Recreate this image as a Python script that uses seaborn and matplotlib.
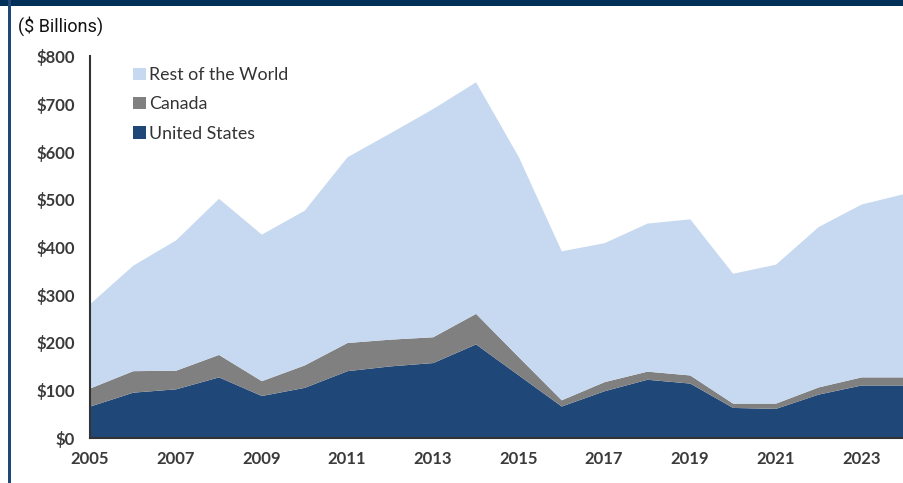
import matplotlib
matplotlib.use("Agg")
import matplotlib.pyplot as plt
from matplotlib.patches import Patch, Rectangle
import seaborn as sns
import pandas as pd

years = list(range(2005, 2025))
united_states = [67, 96, 103, 128, 89, 106, 141, 151, 158, 197, 132, 67, 99, 123, 115, 64, 62, 92, 111, 111]
canada_top = [105, 141, 142, 175, 120, 153, 200, 207, 212, 261, 170, 80, 118, 140, 132, 73, 73, 107, 128, 128]
total = [282, 362, 415, 502, 427, 477, 589, 639, 690, 746, 589, 392, 409, 450, 459, 345, 364, 443, 490, 512]
canada = [c - u for c, u in zip(canada_top, united_states)]
rest_of_world = [t - c for t, c in zip(total, canada_top)]

series_names = ["United States", "Canada", "Rest of the World"]
colors = ["#1F4778", "#808080", "#C6D9F0"]
y_ticks = [0, 100, 200, 300, 400, 500, 600, 700, 800]
y_tick_labels = ["$0", "$100", "$200", "$300", "$400", "$500", "$600", "$700", "$800"]
x_ticks = [2005, 2007, 2009, 2011, 2013, 2015, 2017, 2019, 2021, 2023]

df = pd.DataFrame({"year": years, "United States": united_states,
                   "Canada": canada, "Rest of the World": rest_of_world})

sns.set_theme(style="white")
plt.rcParams["font.family"] = ["Lato", "DejaVu Sans"]

fig = plt.figure(figsize=(9.04, 4.83), dpi=100)
ax = fig.add_axes([90 / 904, 1 - 438 / 483, 1 - 90 / 904, (438 - 56) / 483])

ax.stackplot(df["year"], [df[n] for n in series_names], colors=colors, linewidth=0)

ax.set_xlim(2005, 2024)
ax.set_ylim(0, 800)
ax.set_yticks(y_ticks)
ax.set_yticklabels(y_tick_labels)
ax.set_xticks(x_ticks)
ax.set_xticklabels([str(x) for x in x_ticks])

for s in ["top", "right"]:
    ax.spines[s].set_visible(False)
for s in ["left", "bottom"]:
    ax.spines[s].set_color("#333333")
    ax.spines[s].set_linewidth(1.5)
    ax.spines[s].set_zorder(5)

ax.tick_params(axis="both", which="major", direction="out", length=5, width=1.3,
               color="#333333", labelsize=12, labelcolor="#3a3a3a")
ax.tick_params(axis="y", pad=6)
ax.tick_params(axis="x", pad=4)
for lbl in ax.get_xticklabels() + ax.get_yticklabels():
    lbl.set_fontweight("bold")
ax.set_xlabel("")
ax.set_ylabel("")

handles = [Patch(facecolor=colors[2], edgecolor="none", label="Rest of the World"),
           Patch(facecolor=colors[1], edgecolor="none", label="Canada"),
           Patch(facecolor=colors[0], edgecolor="none", label="United States")]
leg = ax.legend(handles=handles, loc="upper left", bbox_to_anchor=(36 / 814, 1 - 4 / 382),
                frameon=False, fontsize=12.8, handlelength=0.7, handleheight=0.7,
                handletextpad=0.2, labelspacing=0.75, borderaxespad=0)
for t in leg.get_texts():
    t.set_color("#333333")

fig.text(18 / 904, 1 - 26 / 483, "($ Billions)", fontsize=13, color="#111111",
         family=["Roboto", "DejaVu Sans"], va="center", ha="left")

fig.patches.append(Rectangle((0, 1 - 6 / 483), 1, 6 / 483, transform=fig.transFigure,
                             facecolor="#003057", edgecolor="none"))
fig.patches.append(Rectangle((8 / 904, 0), 2.5 / 904, 1, transform=fig.transFigure,
                             facecolor="#1F4778", edgecolor="none"))

fig.savefig("out.png", dpi=100)
